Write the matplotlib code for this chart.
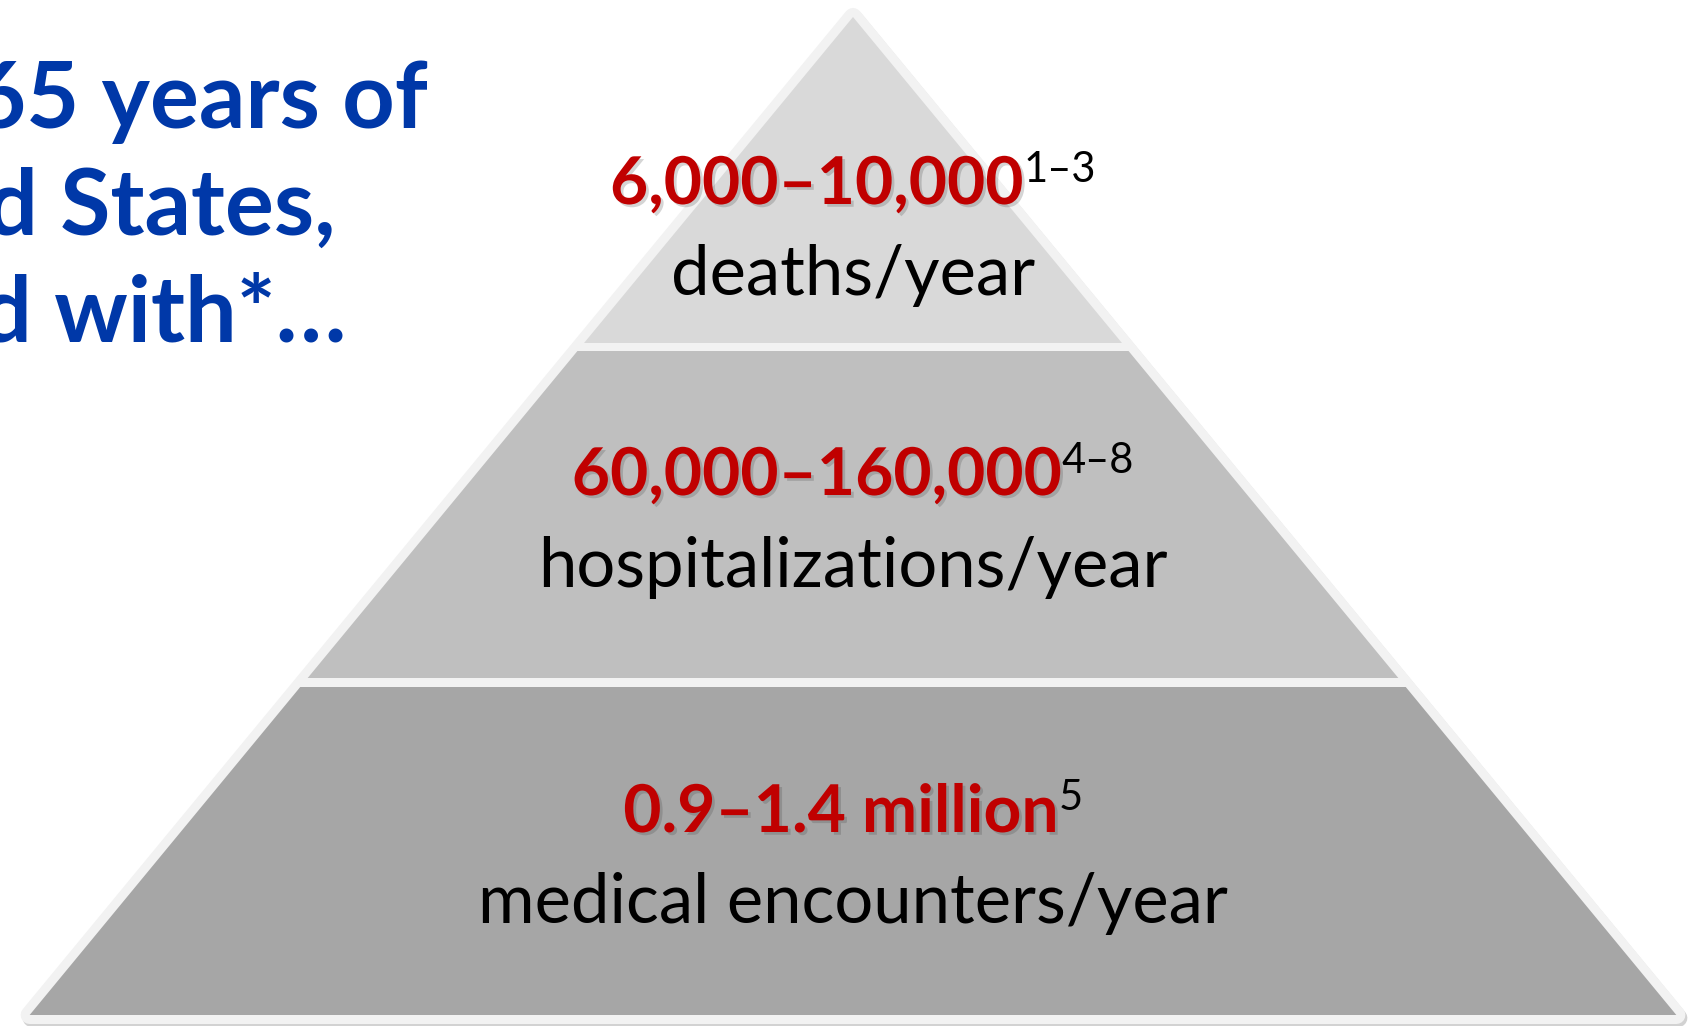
import matplotlib
matplotlib.use("Agg")
import matplotlib.pyplot as plt
import matplotlib.patheffects as pe
from matplotlib.patches import Polygon

# contenu du graphique
chiffres = ["6,000\u201310,000", "60,000\u2013160,000", "0.9\u20131.4 million"]
references = ["1\u20133", "4\u20138", "5"]
unites = ["deaths/year", "hospitalizations/year", "medical encounters/year"]
titre = ["65 years of", "d States,", "d with*\u2026"]

couleurs_etages = ["#D9D9D9", "#BFBFBF", "#A6A6A6"]
bord = "#F2F2F2"
rouge = "#C00000"
bleu = "#0038A8"

# geometrie (en pixels, l'axe couvre toute la figure)
W, H = 1703, 1026
sommet = (853, 17)
bas = 1015
pente = 0.825  # dx/dy des cotes
haut_etages = [17, 351, 687]
bas_etages = [343, 678, 1015]
base_rouge = [204, 495, 832]
base_noir = [295, 587, 923]

fig = plt.figure(figsize=(W / 100, H / 100), dpi=100)
ax = fig.add_axes([0, 0, 1, 1])
ax.set_xlim(0, W)
ax.set_ylim(H, 0)
ax.axis("off")

def xg(y):
    return sommet[0] - pente * (y - sommet[1])

def xd(y):
    return sommet[0] + pente * (y - sommet[1])

contour = [(sommet[0], sommet[1]), (xg(bas), bas), (xd(bas), bas)]
# ombre legere
ombre = [(x + 2, y + 3) for (x, y) in contour]
ax.add_patch(Polygon(ombre, closed=True, facecolor="#D2D2D2", edgecolor="#D2D2D2",
                     linewidth=13, joinstyle="round", zorder=1))
ax.add_patch(Polygon(contour, closed=True, facecolor=bord, edgecolor=bord,
                     linewidth=13, joinstyle="round", zorder=2))

for i in range(3):
    y0, y1 = haut_etages[i], bas_etages[i]
    pts = [(xg(y0), y0), (xd(y0), y0), (xd(y1), y1), (xg(y1), y1)]
    ax.add_patch(Polygon(pts, closed=True, facecolor=couleurs_etages[i],
                         edgecolor="none", zorder=3))

police = ["Lato", "DejaVu Sans"]
r = fig.canvas.get_renderer()
ombre_txt = [pe.withSimplePatchShadow(offset=(2, -2), shadow_rgbFace="#404040", alpha=0.22)]

for i in range(3):
    t1 = ax.text(0, base_rouge[i], chiffres[i], color=rouge, fontsize=47.5,
                 fontweight="bold", family=police, ha="left", va="baseline",
                 path_effects=ombre_txt, zorder=5)
    t2 = ax.text(0, base_rouge[i] - 22, references[i], color="black", fontsize=30,
                 family=police, ha="left", va="baseline", zorder=5)
    w1 = t1.get_window_extent(r).width
    w2 = t2.get_window_extent(r).width
    x0 = sommet[0] - (w1 + w2) / 2
    t1.set_x(x0)
    t2.set_x(x0 + w1)
    ax.text(sommet[0], base_noir[i], unites[i], color="black", fontsize=49.5,
            family=police, ha="center", va="baseline", zorder=5)

# titre coupe au bord gauche, comme dans l'original
gauches = [-27, -14, -20]
bases_titre = [128, 235, 342]
for i in range(3):
    ax.text(gauches[i], bases_titre[i], titre[i], color=bleu, fontsize=66,
            fontweight="bold", family=police, ha="left", va="baseline", zorder=5)

fig.savefig("out.png", dpi=100, facecolor="white")
